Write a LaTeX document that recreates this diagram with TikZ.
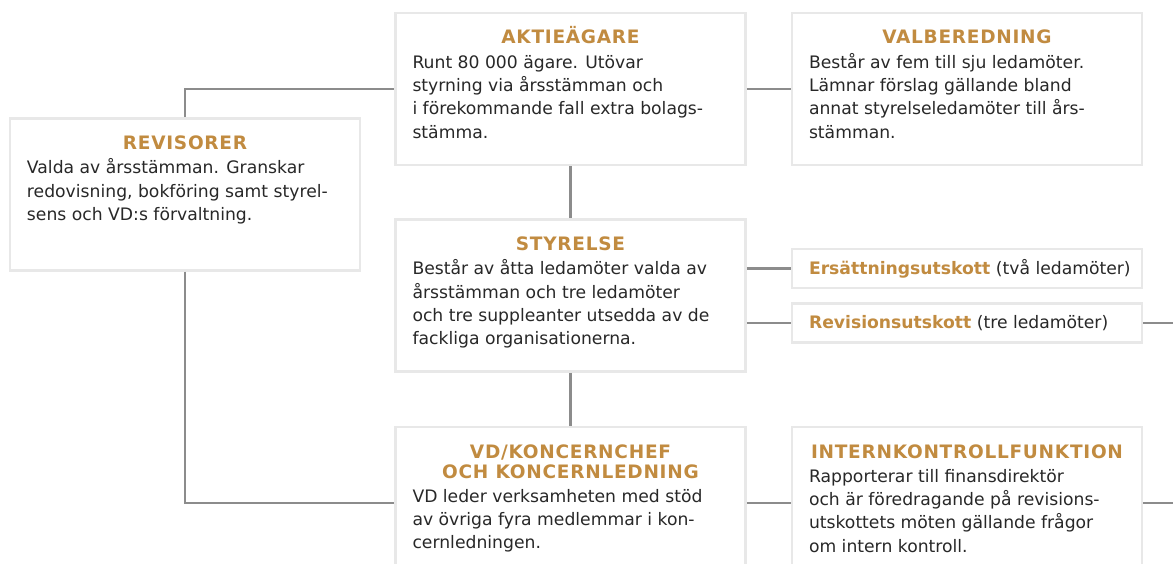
\documentclass[tikz,border=0pt]{standalone}
\usepackage{fontspec}
\setmainfont{DejaVu Sans}
\newfontfamily\headfamily{DejaVu Sans}[LetterSpace=4]
\usetikzlibrary{positioning}

\definecolor{gold}{RGB}{193,139,64}
\definecolor{framegray}{RGB}{232,232,232}
\definecolor{linkgray}{RGB}{140,140,140}
\definecolor{bodytext}{RGB}{40,40,40}

\newcommand{\headfont}{\headfamily\bfseries\fontsize{18.5pt}{20pt}\selectfont\color{gold}}
\newcommand{\bodyfont}{\normalfont\fontsize{17.2pt}{23.3pt}\selectfont\color{bodytext}}
\newcommand{\tabhead}[1]{{\bfseries\color{gold}#1}}
\newcommand{\panelbox}[2]{\parbox[c][152pt][t]{316pt}{\centering\headfont\rule{0pt}{31pt}#1\par
  \vspace{1pt}\raggedright\bodyfont #2\par}}

\begin{document}
\begin{tikzpicture}[
  x=1pt, y=-1pt,
  panel/.style={rectangle, draw=framegray, line width=2.5pt, fill=white,
                inner xsep=17pt, inner ysep=0pt},
  tab/.style={rectangle, draw=framegray, line width=2.5pt, fill=white,
              inner xsep=17pt, inner ysep=0pt, minimum height=39pt},
  link/.style={draw=linkgray, line width=2.2pt},
  node distance=44pt
]
\fill[white, use as bounding box] (0,0) rectangle (1173,564);
\clip (0,0) rectangle (1173,564);

% ==========================================================
% Bodies
% ==========================================================
\node[panel] (aktie) at (570.5,89) {\panelbox{AKTIEÄGARE}{Runt 80~000 ägare. Utövar\\
  styrning via årsstämman och\\i förekommande fall extra bolags-\\stämma.}};
\node[panel, right=of aktie] (valb) {\panelbox{VALBEREDNING}{Består av fem till sju ledamöter.\\
  Lämnar förslag gällande bland\\annat styrelseledamöter till års-\\stämman.}};
\node[panel] (revis) at (185,194.5) {\panelbox{REVISORER}{Valda av årsstämman. Granskar\\
  redovisning, bokföring samt styrel-\\sens och VD:s förvaltning.}};
\node[panel, below=52pt of aktie] (styr) {\panelbox{STYRELSE}{Består av åtta ledamöter valda av\\
  årsstämman och tre ledamöter\\och tre suppleanter utsedda av de\\fackliga organisationerna.}};
\node[panel, below=53pt of styr] (vd) {\panelbox{VD/KONCERNCHEF\\OCH KONCERNLEDNING}{VD leder verksamheten med stöd\\
  av övriga fyra medlemmar i kon-\\cernledningen.}};
\node[panel, right=of vd] (intern) {\panelbox{INTERNKONTROLLFUNKTION}{Rapporterar till finansdirektör\\
  och är föredragande på revisions-\\utskottets möten gällande frågor\\om intern kontroll.}};

% ==========================================================
% Committees
% ==========================================================
\node[tab, right=of styr, yshift=27pt] (ers) {\makebox[316pt][l]{\bodyfont\tabhead{Ersättningsutskott} (två ledamöter)}};
\node[tab, right=of styr, yshift=-27.5pt] (rev) {\makebox[316pt][l]{\bodyfont\tabhead{Revisionsutskott} (tre ledamöter)}};

\path (rev.east) ++(40pt,0) coordinate (revend);
\path (intern.east) ++(40pt,0) coordinate (internend);

% ==========================================================
% Links
% ==========================================================
\draw[link] (revis.north) |- (aktie.west);
\draw[link] (aktie.east) -- (valb.west);
\draw[link] (aktie.south) -- (styr.north);
\draw[link] (styr.south) -- (vd.north);
\draw[link] (styr.east |- ers.west) -- (ers.west);
\draw[link] (styr.east |- rev.west) -- (rev.west);
\draw[link] (rev.east) -- (revend);
\draw[link] (revis.south) |- (vd.west);
\draw[link] (vd.east) -- (intern.west);
\draw[link] (intern.east) -- (internend);

\end{tikzpicture}
\end{document}
